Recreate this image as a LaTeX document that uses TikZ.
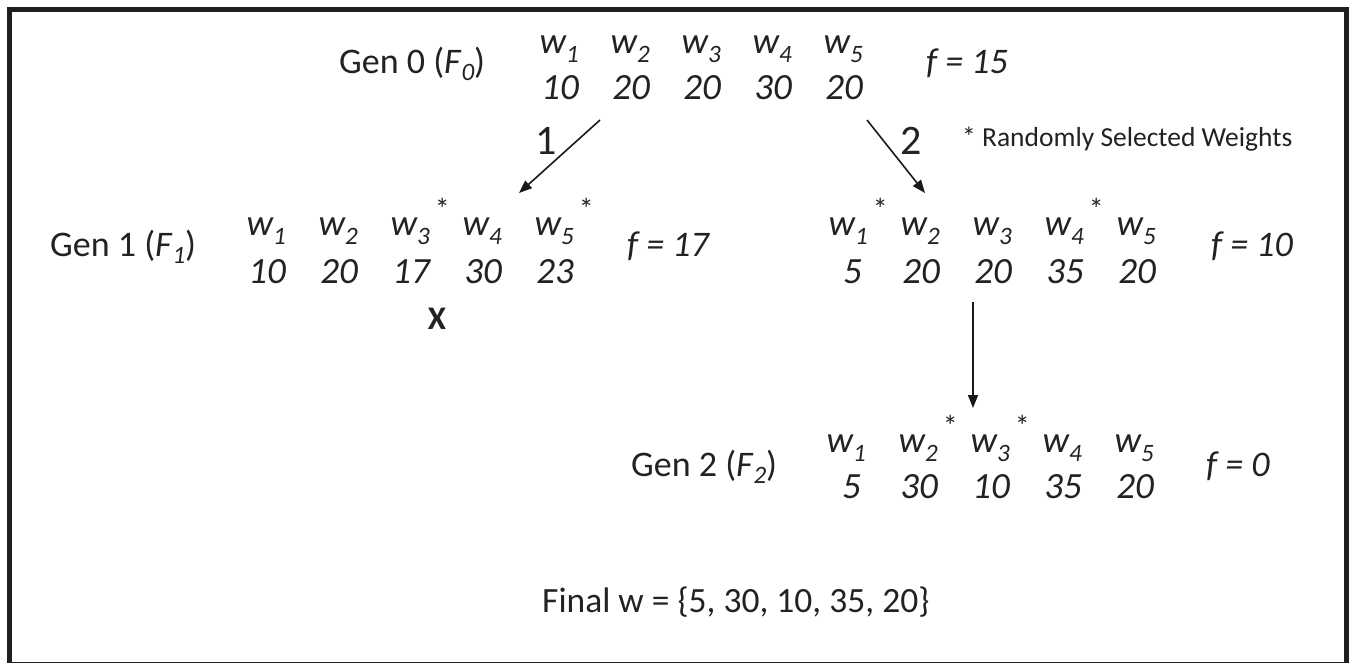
\documentclass[tikz,border=0pt]{standalone}
\usepackage{fontspec}
\setmainfont{Carlito}
\usetikzlibrary{arrows.meta}

\definecolor{ink}{HTML}{222222}

% weight name with subscript, and the same with a selection mark
\newcommand\wv[1]{w\raisebox{-0.26em}{\fontsize{25}{28}\selectfont #1}}
\newcommand\wst[1]{\wv{#1}\rlap{\raisebox{0.42em}{\fontsize{30}{32}\selectfont\upshape\,*}}}
% generation label subscript
\newcommand\gsub[1]{\raisebox{-0.22em}{\fontsize{25}{28}\selectfont\itshape #1}}

\begin{document}
\begin{tikzpicture}[x=1pt,y=-1pt,
  every node/.style={inner sep=0pt, text=ink},
  genlabel/.style={font=\fontsize{36}{42}\selectfont, anchor=base west},
  wname/.style={font=\fontsize{37}{42}\selectfont\itshape, anchor=base east},
  wval/.style={font=\fontsize{37}{42}\selectfont\itshape, anchor=base east},
  fit/.style={font=\fontsize{36}{42}\selectfont\itshape, anchor=base west},
  note/.style={font=\fontsize{27.5}{32}\selectfont, anchor=base west},
  steplabel/.style={font=\fontsize{42}{48}\selectfont, anchor=center},
  flow/.style={line width=1.6pt, draw=black!90, -{Triangle[length=13pt,width=10pt]}}
]
\useasboundingbox (0,0) rectangle (1352,662);
\draw[line width=5pt, draw=black!88] (9.5,9.5) rectangle (1346,664);

% ---- Generation 0 ----
\node[genlabel] (g0) at (339,73) {Gen 0 (\textit{F}\gsub{0})};
\node[wname] (g0w1) at (579,53) {\wv{1}};
\node[wname] (g0w2) at (650,53) {\wv{2}};
\node[wname] (g0w3) at (721,53) {\wv{3}};
\node[wname] (g0w4) at (792,53) {\wv{4}};
\node[wname] (g0w5) at (863,53) {\wv{5}};
\node[wval] (g0v1) at (579,99) {10};
\node[wval] (g0v2) at (650,99) {20};
\node[wval] (g0v3) at (721,99) {20};
\node[wval] (g0v4) at (792,99) {30};
\node[wval] (g0v5) at (863,99) {20};
\node[fit] (g0f) at (926,73) {f = 15};

\node[note] (legend) at (962,146) {* Randomly Selected Weights};

% ---- Generation 1, branch 1 ----
\node[genlabel] (g1a) at (50,256) {Gen 1 (\textit{F}\gsub{1})};
\node[wname] (g1aw1) at (286,235) {\wv{1}};
\node[wname] (g1aw2) at (358,235) {\wv{2}};
\node[wname] (g1aw3) at (430,235) {\wst{3}};
\node[wname] (g1aw4) at (502,235) {\wv{4}};
\node[wname] (g1aw5) at (574,235) {\wst{5}};
\node[wval] (g1av1) at (286,283) {10};
\node[wval] (g1av2) at (358,283) {20};
\node[wval] (g1av3) at (430,283) {17};
\node[wval] (g1av4) at (502,283) {30};
\node[wval] (g1av5) at (574,283) {23};
\node[fit] (g1af) at (627,256) {f = 17};
\node[font=\fontsize{33}{38}\selectfont\bfseries] (reject) at (437,319) {X};

% ---- Generation 1, branch 2 ----
\node[wname] (g1bw1) at (868,235) {\wst{1}};
\node[wname] (g1bw2) at (940,235) {\wv{2}};
\node[wname] (g1bw3) at (1012,235) {\wv{3}};
\node[wname] (g1bw4) at (1084,235) {\wst{4}};
\node[wname] (g1bw5) at (1156,235) {\wv{5}};
\node[wval] (g1bv1) at (862,283) {5};
\node[wval] (g1bv2) at (940,283) {20};
\node[wval] (g1bv3) at (1012,283) {20};
\node[wval] (g1bv4) at (1084,283) {35};
\node[wval] (g1bv5) at (1156,283) {20};
\node[fit] (g1bf) at (1211,256) {f = 10};

% ---- Generation 2 ----
\node[genlabel] (g2) at (631,476) {Gen 2 (\textit{F}\gsub{2})};
\node[wname] (g2w1) at (866,452) {\wv{1}};
\node[wname] (g2w2) at (938,452) {\wst{2}};
\node[wname] (g2w3) at (1010,452) {\wst{3}};
\node[wname] (g2w4) at (1082,452) {\wv{4}};
\node[wname] (g2w5) at (1154,452) {\wv{5}};
\node[wval] (g2v1) at (861,498) {5};
\node[wval] (g2v2) at (938,498) {30};
\node[wval] (g2v3) at (1010,498) {10};
\node[wval] (g2v4) at (1082,498) {35};
\node[wval] (g2v5) at (1154,498) {20};
\node[fit] (g2f) at (1206,476) {f = 0};

\node[genlabel, font=\fontsize{35.5}{42}\selectfont] (final) at (542,612) {Final w = \{5, 30, 10, 35, 20\}};

% ---- transitions ----
\coordinate (s1) at (600,120);
\coordinate (e1) at (519,193);
\coordinate (s2) at (867,120);
\coordinate (e2) at (925,193);
\coordinate (s3) at (973,302);
\coordinate (e3) at (973,408);
\draw[flow] (s1) -- (e1);
\draw[flow] (s2) -- (e2);
\draw[flow] (s3) -- (e3);
\node[steplabel] (n1) at (546,141) {1};
\node[steplabel] (n2) at (911,141) {2};
\end{tikzpicture}
\end{document}
